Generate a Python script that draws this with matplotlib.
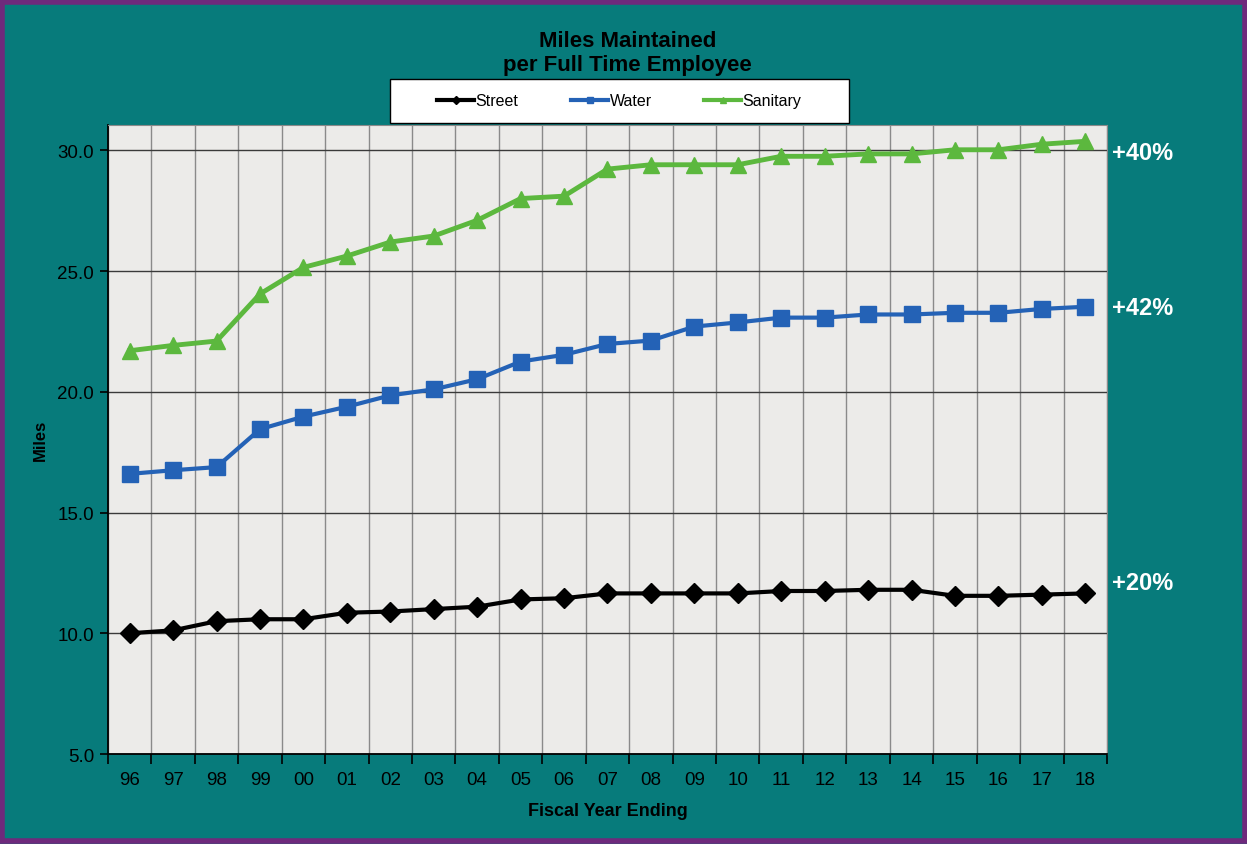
import matplotlib.pyplot as plt
from matplotlib.lines import Line2D
from matplotlib.patches import Rectangle
from matplotlib.ticker import FixedLocator, FormatStrFormatter

# Chart data
years = ['96', '97', '98', '99', '00', '01', '02', '03', '04', '05', '06', '07',
         '08', '09', '10', '11', '12', '13', '14', '15', '16', '17', '18']
street = [10.0, 10.12, 10.5, 10.58, 10.58, 10.85, 10.9, 11.0, 11.1, 11.4, 11.45, 11.65,
          11.65, 11.65, 11.65, 11.75, 11.75, 11.8, 11.8, 11.55, 11.55, 11.6, 11.65]
water = [16.6, 16.75, 16.88, 18.45, 18.97, 19.38, 19.85, 20.1, 20.52, 21.25, 21.53, 21.98,
         22.12, 22.7, 22.87, 23.07, 23.07, 23.2, 23.2, 23.27, 23.27, 23.43, 23.52]
sanitary = [21.7, 21.92, 22.1, 24.05, 25.15, 25.62, 26.2, 26.45, 27.1, 28.0, 28.1, 29.22,
            29.4, 29.4, 29.4, 29.75, 29.75, 29.85, 29.85, 30.02, 30.02, 30.25, 30.37]
series_names = ['Street', 'Water', 'Sanitary']
pct_labels = ['+20%', '+42%', '+40%']

TEAL = '#077b7b'
PURPLE = '#6e2a7c'
GREEN = '#5cb83e'
BLUE = '#2462b6'

plt.rcParams['font.family'] = ['Liberation Sans', 'DejaVu Sans']

fig = plt.figure(figsize=(12.47, 8.45), dpi=100)
fig.patch.set_facecolor(TEAL)
fig.patches.append(Rectangle((0.002, 0.003), 0.996, 0.994, transform=fig.transFigure,
                             fill=False, edgecolor=PURPLE, linewidth=4))

ax = fig.add_axes([0.0866, 0.1065, 0.8011, 0.7445])
ax.set_facecolor('#ecebe9')

x = list(range(len(years)))
ax.plot(x, street, color='black', lw=3, marker='D', ms=10, zorder=5)
ax.plot(x, water, color=BLUE, lw=3, marker='s', ms=11, zorder=5)
ax.plot(x, sanitary, color=GREEN, lw=3.5, marker='^', ms=12, zorder=5)

ax.set_xlim(-0.5, len(years) - 0.5)
ax.set_ylim(5, 31.05)
ax.set_yticks([5, 10, 15, 20, 25, 30])
ax.yaxis.set_major_formatter(FormatStrFormatter('%.1f'))
ax.set_xticks(x)
ax.set_xticklabels(years)
ax.xaxis.set_minor_locator(FixedLocator([i - 0.5 for i in range(len(years) + 1)]))
ax.tick_params(axis='x', which='major', length=0, pad=12, labelsize=13.5)
ax.tick_params(axis='x', which='minor', length=7, width=1.2, color='black')
ax.tick_params(axis='y', length=6, width=1.2, labelsize=13.5, pad=4)

ax.grid(axis='y', which='major', color='#3a3a3a', lw=1)
ax.grid(axis='x', which='minor', color='#8a8a8a', lw=1)
ax.set_axisbelow(True)

for side in ['top', 'right']:
    ax.spines[side].set_color('#8a8a8a')
for side in ['left', 'bottom']:
    ax.spines[side].set_color('black')
    ax.spines[side].set_linewidth(1.3)

ax.set_xlabel('Fiscal Year Ending', fontsize=13, fontweight='bold', labelpad=10)
ax.set_ylabel('Miles', fontsize=12, fontweight='bold', labelpad=7)

fig.text(0.503, 0.937, 'Miles Maintained\nper Full Time Employee', ha='center', va='center',
         fontsize=16, fontweight='bold', linespacing=1.2)

# percent change labels to the right of the plot
for label, ypos in zip(pct_labels, [12.1, 23.5, 29.92]):
    ax.text(1.005, ypos, label, transform=ax.get_yaxis_transform(), color='white',
            fontsize=17, fontweight='bold', va='center', ha='left')

# legend box
fig.patches.append(Rectangle((0.3127, 0.8533), 0.368, 0.052, transform=fig.transFigure,
                             facecolor='white', edgecolor='black', linewidth=1, zorder=1))
handles = [Line2D([], [], color='black', lw=3, marker='D', ms=4),
           Line2D([], [], color=BLUE, lw=3, marker='s', ms=4),
           Line2D([], [], color=GREEN, lw=3, marker='^', ms=5)]
fig.legend(handles, series_names, loc='center', ncol=3,
           bbox_to_anchor=(0.3127 + 0.184, 0.8533 + 0.026), frameon=False,
           fontsize=11.5, handlelength=2.3, handletextpad=0.1, columnspacing=3.3)

fig.savefig('out.png', dpi=100, facecolor=fig.get_facecolor())
